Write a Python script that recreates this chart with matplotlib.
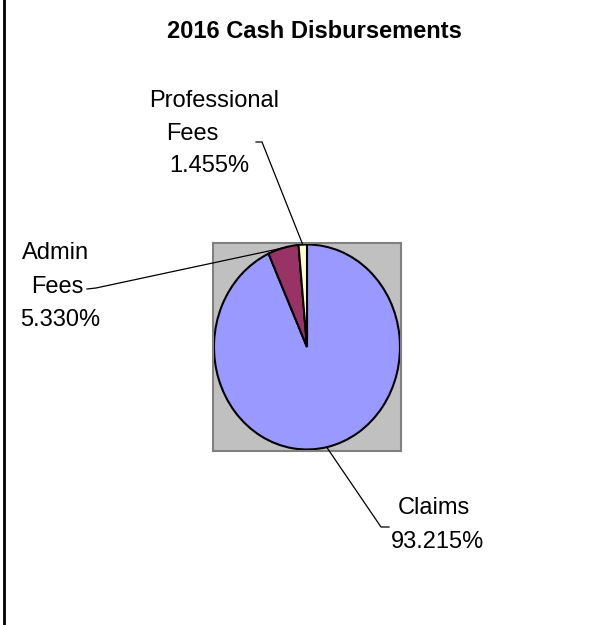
import numpy as np
import matplotlib.pyplot as plt
from matplotlib.lines import Line2D

plt.rcParams["font.family"] = ["Liberation Sans", "DejaVu Sans"]

# Data

categories = ["Claims", "Admin\nFees", "Professional\nFees"]
shares = [93.215, 5.330, 1.455]
colors = ["#9999FF", "#993366", "#FFFFCC"]

# Layout (pixels, y from top)

W, H = 608, 625
label_lines_x = [[434, 438], [56, 57, 60], [214, 192, 209]]
label_lines_y = [[508, 542], [253, 287, 320], [101, 134, 166]]
leader_elbow = [(381, 527), (96, 288), (262, 142)]
leader_stub = [(389, 527), (87, 289), (256, 142)]


def fx(x):
    return x / W


def fy(y):
    return 1 - y / H


fig = plt.figure(figsize=(W / 100, H / 100), dpi=100)
fig.patch.set_facecolor("white")

# Plot area (grey box) holding the pie
ax = fig.add_axes([fx(213), fy(451), (401 - 213) / W, (451 - 243) / H])

wedges, _ = ax.pie(
    shares,
    colors=colors,
    startangle=90,
    counterclock=False,
    radius=1,
    frame=True,
    wedgeprops=dict(edgecolor="black", linewidth=1.5),
)
ax.set_facecolor("#C0C0C0")
for s in ax.spines.values():
    s.set_visible(True)
    s.set_color("#808080")
    s.set_linewidth(1.5)
ax.set_xticks([])
ax.set_yticks([])
ax.set_aspect("auto")
ax.set_xlim(-94 / 93, 94 / 93)
ax.set_ylim(-104 / 102.5, 104 / 102.5)

fig.text(fx(314), fy(32), "2016 Cash Disbursements", ha="center", va="center",
         fontsize=17, fontweight="bold")

# Labels and leader lines
to_fig = fig.transFigure.inverted()
for i, w in enumerate(wedges):
    mid = np.deg2rad((w.theta1 + w.theta2) / 2)
    edge = ax.transData.transform((np.cos(mid), np.sin(mid)))
    ex, ey = to_fig.transform(edge)
    lines = categories[i].split("\n") + [f"{shares[i]:.3f}%"]
    for txt, x, y in zip(lines, label_lines_x[i], label_lines_y[i]):
        fig.text(fx(x), fy(y), txt, ha="center", va="center", fontsize=17)
    (bx, by), (sx, sy) = leader_elbow[i], leader_stub[i]
    fig.add_artist(Line2D([fx(sx), fx(bx), ex], [fy(sy), fy(by), ey],
                          color="black", linewidth=0.9))

# left border of the chart area
fig.add_artist(Line2D([fx(3.5), fx(3.5)], [0, 1], color="black", linewidth=2))

fig.savefig("out.png", dpi=100)
